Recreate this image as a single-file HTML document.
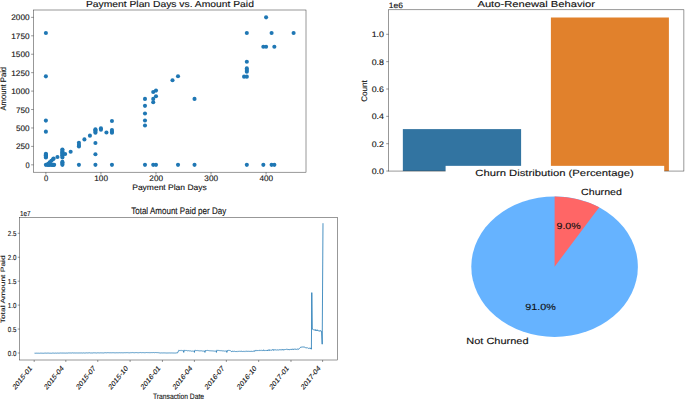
<!DOCTYPE html>
<html><head><meta charset="utf-8"><style>
html,body{margin:0;padding:0;background:#fff;width:685px;height:399px;overflow:hidden}
svg{display:block}
text{font-family:"Liberation Sans",sans-serif;text-rendering:geometricPrecision}
</style></head><body>
<svg width="685" height="399" viewBox="0 0 685 399" font-family="Liberation Sans, sans-serif">
<rect width="685" height="399" fill="#fff"/>
<rect x="33.5" y="10.0" width="272.5" height="162.2" fill="none" stroke="#333" stroke-width="0.5"/>
<circle cx="45.89" cy="164.83" r="2.05" fill="#1f77b4"/>
<circle cx="45.89" cy="157.45" r="2.05" fill="#1f77b4"/>
<circle cx="45.89" cy="156.72" r="2.05" fill="#1f77b4"/>
<circle cx="45.89" cy="155.98" r="2.05" fill="#1f77b4"/>
<circle cx="45.89" cy="155.24" r="2.05" fill="#1f77b4"/>
<circle cx="45.89" cy="154.51" r="2.05" fill="#1f77b4"/>
<circle cx="45.89" cy="153.77" r="2.05" fill="#1f77b4"/>
<circle cx="45.89" cy="131.65" r="2.05" fill="#1f77b4"/>
<circle cx="45.89" cy="120.59" r="2.05" fill="#1f77b4"/>
<circle cx="45.89" cy="76.35" r="2.05" fill="#1f77b4"/>
<circle cx="45.89" cy="33.00" r="2.05" fill="#1f77b4"/>
<circle cx="47.54" cy="164.83" r="2.05" fill="#1f77b4"/>
<circle cx="48.64" cy="164.83" r="2.05" fill="#1f77b4"/>
<circle cx="49.74" cy="164.83" r="2.05" fill="#1f77b4"/>
<circle cx="51.39" cy="164.83" r="2.05" fill="#1f77b4"/>
<circle cx="52.49" cy="164.83" r="2.05" fill="#1f77b4"/>
<circle cx="53.59" cy="164.83" r="2.05" fill="#1f77b4"/>
<circle cx="54.14" cy="164.83" r="2.05" fill="#1f77b4"/>
<circle cx="48.09" cy="163.72" r="2.05" fill="#1f77b4"/>
<circle cx="49.74" cy="162.25" r="2.05" fill="#1f77b4"/>
<circle cx="51.39" cy="160.77" r="2.05" fill="#1f77b4"/>
<circle cx="53.04" cy="159.30" r="2.05" fill="#1f77b4"/>
<circle cx="53.59" cy="158.56" r="2.05" fill="#1f77b4"/>
<circle cx="57.45" cy="156.94" r="2.05" fill="#1f77b4"/>
<circle cx="62.40" cy="164.83" r="2.05" fill="#1f77b4"/>
<circle cx="62.40" cy="163.72" r="2.05" fill="#1f77b4"/>
<circle cx="62.40" cy="162.62" r="2.05" fill="#1f77b4"/>
<circle cx="62.40" cy="161.88" r="2.05" fill="#1f77b4"/>
<circle cx="62.40" cy="157.53" r="2.05" fill="#1f77b4"/>
<circle cx="62.40" cy="156.05" r="2.05" fill="#1f77b4"/>
<circle cx="62.40" cy="155.32" r="2.05" fill="#1f77b4"/>
<circle cx="62.40" cy="153.84" r="2.05" fill="#1f77b4"/>
<circle cx="62.40" cy="153.77" r="2.05" fill="#1f77b4"/>
<circle cx="62.40" cy="152.29" r="2.05" fill="#1f77b4"/>
<circle cx="62.40" cy="151.56" r="2.05" fill="#1f77b4"/>
<circle cx="62.40" cy="150.08" r="2.05" fill="#1f77b4"/>
<circle cx="62.40" cy="149.57" r="2.05" fill="#1f77b4"/>
<circle cx="65.15" cy="153.99" r="2.05" fill="#1f77b4"/>
<circle cx="70.66" cy="151.78" r="2.05" fill="#1f77b4"/>
<circle cx="78.92" cy="164.83" r="2.05" fill="#1f77b4"/>
<circle cx="78.92" cy="146.40" r="2.05" fill="#1f77b4"/>
<circle cx="78.92" cy="144.92" r="2.05" fill="#1f77b4"/>
<circle cx="78.92" cy="142.71" r="2.05" fill="#1f77b4"/>
<circle cx="84.42" cy="139.39" r="2.05" fill="#1f77b4"/>
<circle cx="89.93" cy="135.63" r="2.05" fill="#1f77b4"/>
<circle cx="95.43" cy="164.83" r="2.05" fill="#1f77b4"/>
<circle cx="95.43" cy="154.28" r="2.05" fill="#1f77b4"/>
<circle cx="95.43" cy="142.93" r="2.05" fill="#1f77b4"/>
<circle cx="95.43" cy="132.76" r="2.05" fill="#1f77b4"/>
<circle cx="95.43" cy="131.65" r="2.05" fill="#1f77b4"/>
<circle cx="95.43" cy="130.18" r="2.05" fill="#1f77b4"/>
<circle cx="95.43" cy="129.29" r="2.05" fill="#1f77b4"/>
<circle cx="100.94" cy="129.81" r="2.05" fill="#1f77b4"/>
<circle cx="100.94" cy="128.26" r="2.05" fill="#1f77b4"/>
<circle cx="106.44" cy="132.53" r="2.05" fill="#1f77b4"/>
<circle cx="111.95" cy="164.83" r="2.05" fill="#1f77b4"/>
<circle cx="111.95" cy="132.76" r="2.05" fill="#1f77b4"/>
<circle cx="111.95" cy="131.65" r="2.05" fill="#1f77b4"/>
<circle cx="111.95" cy="130.10" r="2.05" fill="#1f77b4"/>
<circle cx="111.95" cy="120.96" r="2.05" fill="#1f77b4"/>
<circle cx="144.98" cy="164.83" r="2.05" fill="#1f77b4"/>
<circle cx="144.98" cy="125.53" r="2.05" fill="#1f77b4"/>
<circle cx="144.98" cy="120.52" r="2.05" fill="#1f77b4"/>
<circle cx="144.98" cy="113.44" r="2.05" fill="#1f77b4"/>
<circle cx="144.98" cy="105.85" r="2.05" fill="#1f77b4"/>
<circle cx="144.98" cy="98.92" r="2.05" fill="#1f77b4"/>
<circle cx="153.23" cy="164.83" r="2.05" fill="#1f77b4"/>
<circle cx="153.23" cy="102.23" r="2.05" fill="#1f77b4"/>
<circle cx="153.23" cy="98.92" r="2.05" fill="#1f77b4"/>
<circle cx="153.23" cy="91.98" r="2.05" fill="#1f77b4"/>
<circle cx="155.99" cy="164.83" r="2.05" fill="#1f77b4"/>
<circle cx="155.99" cy="96.26" r="2.05" fill="#1f77b4"/>
<circle cx="155.99" cy="90.58" r="2.05" fill="#1f77b4"/>
<circle cx="172.50" cy="80.19" r="2.05" fill="#1f77b4"/>
<circle cx="178.01" cy="76.28" r="2.05" fill="#1f77b4"/>
<circle cx="178.01" cy="164.83" r="2.05" fill="#1f77b4"/>
<circle cx="194.52" cy="98.92" r="2.05" fill="#1f77b4"/>
<circle cx="194.52" cy="164.83" r="2.05" fill="#1f77b4"/>
<circle cx="244.07" cy="76.65" r="2.05" fill="#1f77b4"/>
<circle cx="246.82" cy="164.83" r="2.05" fill="#1f77b4"/>
<circle cx="246.82" cy="76.65" r="2.05" fill="#1f77b4"/>
<circle cx="246.82" cy="71.64" r="2.05" fill="#1f77b4"/>
<circle cx="246.82" cy="70.09" r="2.05" fill="#1f77b4"/>
<circle cx="246.82" cy="68.39" r="2.05" fill="#1f77b4"/>
<circle cx="246.82" cy="61.68" r="2.05" fill="#1f77b4"/>
<circle cx="246.82" cy="33.00" r="2.05" fill="#1f77b4"/>
<circle cx="263.34" cy="164.83" r="2.05" fill="#1f77b4"/>
<circle cx="263.34" cy="46.72" r="2.05" fill="#1f77b4"/>
<circle cx="266.09" cy="46.72" r="2.05" fill="#1f77b4"/>
<circle cx="266.09" cy="17.37" r="2.05" fill="#1f77b4"/>
<circle cx="271.59" cy="164.83" r="2.05" fill="#1f77b4"/>
<circle cx="271.59" cy="33.00" r="2.05" fill="#1f77b4"/>
<circle cx="274.35" cy="164.83" r="2.05" fill="#1f77b4"/>
<circle cx="274.35" cy="46.72" r="2.05" fill="#1f77b4"/>
<circle cx="293.61" cy="33.00" r="2.05" fill="#1f77b4"/>
<line x1="31.1" y1="164.83" x2="33.5" y2="164.83" stroke="#333" stroke-width="0.5"/>
<text x="29.60" y="167.83" font-size="8.0" text-anchor="end" fill="#111" stroke="#111" stroke-width="0.12" textLength="4.14" lengthAdjust="spacingAndGlyphs" >0</text>
<line x1="31.1" y1="146.40" x2="33.5" y2="146.40" stroke="#333" stroke-width="0.5"/>
<text x="29.60" y="149.40" font-size="8.0" text-anchor="end" fill="#111" stroke="#111" stroke-width="0.12" textLength="13.61" lengthAdjust="spacingAndGlyphs" >250</text>
<line x1="31.1" y1="127.96" x2="33.5" y2="127.96" stroke="#333" stroke-width="0.5"/>
<text x="29.60" y="130.96" font-size="8.0" text-anchor="end" fill="#111" stroke="#111" stroke-width="0.12" textLength="13.61" lengthAdjust="spacingAndGlyphs" >500</text>
<line x1="31.1" y1="109.53" x2="33.5" y2="109.53" stroke="#333" stroke-width="0.5"/>
<text x="29.60" y="112.53" font-size="8.0" text-anchor="end" fill="#111" stroke="#111" stroke-width="0.12" textLength="13.61" lengthAdjust="spacingAndGlyphs" >750</text>
<line x1="31.1" y1="91.10" x2="33.5" y2="91.10" stroke="#333" stroke-width="0.5"/>
<text x="29.60" y="94.10" font-size="8.0" text-anchor="end" fill="#111" stroke="#111" stroke-width="0.12" textLength="18.35" lengthAdjust="spacingAndGlyphs" >1000</text>
<line x1="31.1" y1="72.67" x2="33.5" y2="72.67" stroke="#333" stroke-width="0.5"/>
<text x="29.60" y="75.67" font-size="8.0" text-anchor="end" fill="#111" stroke="#111" stroke-width="0.12" textLength="18.35" lengthAdjust="spacingAndGlyphs" >1250</text>
<line x1="31.1" y1="54.24" x2="33.5" y2="54.24" stroke="#333" stroke-width="0.5"/>
<text x="29.60" y="57.24" font-size="8.0" text-anchor="end" fill="#111" stroke="#111" stroke-width="0.12" textLength="18.35" lengthAdjust="spacingAndGlyphs" >1500</text>
<line x1="31.1" y1="35.80" x2="33.5" y2="35.80" stroke="#333" stroke-width="0.5"/>
<text x="29.60" y="38.80" font-size="8.0" text-anchor="end" fill="#111" stroke="#111" stroke-width="0.12" textLength="18.35" lengthAdjust="spacingAndGlyphs" >1750</text>
<line x1="31.1" y1="17.37" x2="33.5" y2="17.37" stroke="#333" stroke-width="0.5"/>
<text x="29.60" y="20.37" font-size="8.0" text-anchor="end" fill="#111" stroke="#111" stroke-width="0.12" textLength="18.35" lengthAdjust="spacingAndGlyphs" >2000</text>
<line x1="45.89" y1="172.2" x2="45.89" y2="174.6" stroke="#333" stroke-width="0.5"/>
<text x="46.09" y="181.40" font-size="8.0" text-anchor="middle" fill="#111" stroke="#111" stroke-width="0.12" textLength="4.24" lengthAdjust="spacingAndGlyphs" >0</text>
<line x1="100.94" y1="172.2" x2="100.94" y2="174.6" stroke="#333" stroke-width="0.5"/>
<text x="101.14" y="181.40" font-size="8.0" text-anchor="middle" fill="#111" stroke="#111" stroke-width="0.12" textLength="13.71" lengthAdjust="spacingAndGlyphs" >100</text>
<line x1="155.99" y1="172.2" x2="155.99" y2="174.6" stroke="#333" stroke-width="0.5"/>
<text x="156.19" y="181.40" font-size="8.0" text-anchor="middle" fill="#111" stroke="#111" stroke-width="0.12" textLength="13.71" lengthAdjust="spacingAndGlyphs" >200</text>
<line x1="211.04" y1="172.2" x2="211.04" y2="174.6" stroke="#333" stroke-width="0.5"/>
<text x="211.24" y="181.40" font-size="8.0" text-anchor="middle" fill="#111" stroke="#111" stroke-width="0.12" textLength="13.71" lengthAdjust="spacingAndGlyphs" >300</text>
<line x1="266.09" y1="172.2" x2="266.09" y2="174.6" stroke="#333" stroke-width="0.5"/>
<text x="266.29" y="181.40" font-size="8.0" text-anchor="middle" fill="#111" stroke="#111" stroke-width="0.12" textLength="13.71" lengthAdjust="spacingAndGlyphs" >400</text>
<text x="169.50" y="190.20" font-size="8.0" text-anchor="middle" fill="#111" stroke="#111" stroke-width="0.12" textLength="74.50" lengthAdjust="spacingAndGlyphs" >Payment Plan Days</text>
<text transform="translate(6.10 88.70) rotate(-90)" font-size="8.0" text-anchor="middle" fill="#111" stroke="#111" stroke-width="0.12" textLength="43.50" lengthAdjust="spacingAndGlyphs" >Amount Paid</text>
<text x="169.90" y="6.70" font-size="8.8" text-anchor="middle" fill="#111" stroke="#111" stroke-width="0.12" textLength="168.00" lengthAdjust="spacingAndGlyphs" >Payment Plan Days vs. Amount Paid</text>
<rect x="402.85" y="129.1" width="118.25" height="41.95" fill="#3274a1"/>
<rect x="550.9" y="17.5" width="118" height="153.55" fill="#e1812c"/>
<rect x="388.6" y="9.8" width="295.30" height="161.25" fill="none" stroke="#333" stroke-width="0.5"/>
<line x1="386.20000000000005" y1="171.05" x2="388.6" y2="171.05" stroke="#333" stroke-width="0.5"/>
<text x="384.00" y="173.90" font-size="8.0" text-anchor="end" fill="#111" stroke="#111" stroke-width="0.12" textLength="12.30" lengthAdjust="spacingAndGlyphs" >0.0</text>
<line x1="386.20000000000005" y1="143.70" x2="388.6" y2="143.70" stroke="#333" stroke-width="0.5"/>
<text x="384.00" y="146.55" font-size="8.0" text-anchor="end" fill="#111" stroke="#111" stroke-width="0.12" textLength="12.30" lengthAdjust="spacingAndGlyphs" >0.2</text>
<line x1="386.20000000000005" y1="116.35" x2="388.6" y2="116.35" stroke="#333" stroke-width="0.5"/>
<text x="384.00" y="119.20" font-size="8.0" text-anchor="end" fill="#111" stroke="#111" stroke-width="0.12" textLength="12.30" lengthAdjust="spacingAndGlyphs" >0.4</text>
<line x1="386.20000000000005" y1="89.00" x2="388.6" y2="89.00" stroke="#333" stroke-width="0.5"/>
<text x="384.00" y="91.85" font-size="8.0" text-anchor="end" fill="#111" stroke="#111" stroke-width="0.12" textLength="12.30" lengthAdjust="spacingAndGlyphs" >0.6</text>
<line x1="386.20000000000005" y1="61.65" x2="388.6" y2="61.65" stroke="#333" stroke-width="0.5"/>
<text x="384.00" y="64.50" font-size="8.0" text-anchor="end" fill="#111" stroke="#111" stroke-width="0.12" textLength="12.30" lengthAdjust="spacingAndGlyphs" >0.8</text>
<line x1="386.20000000000005" y1="34.30" x2="388.6" y2="34.30" stroke="#333" stroke-width="0.5"/>
<text x="384.00" y="37.15" font-size="8.0" text-anchor="end" fill="#111" stroke="#111" stroke-width="0.12" textLength="12.30" lengthAdjust="spacingAndGlyphs" >1.0</text>
<text x="388.80" y="8.30" font-size="7.8" text-anchor="start" fill="#111" stroke="#111" stroke-width="0.12" textLength="14.20" lengthAdjust="spacingAndGlyphs" >1e6</text>
<text transform="translate(367.00 91.00) rotate(-90)" font-size="8.0" text-anchor="middle" fill="#111" stroke="#111" stroke-width="0.12" textLength="21.60" lengthAdjust="spacingAndGlyphs" >Count</text>
<text x="536.20" y="6.60" font-size="8.7" text-anchor="middle" fill="#111" stroke="#111" stroke-width="0.12" textLength="117.50" lengthAdjust="spacingAndGlyphs" >Auto-Renewal Behavior</text>
<rect x="445.6" y="165.85" width="218.60" height="15" fill="#fff"/>
<text x="554.50" y="175.80" font-size="9.0" text-anchor="middle" fill="#111" stroke="#111" stroke-width="0.12" textLength="158.50" lengthAdjust="spacingAndGlyphs" >Churn Distribution (Percentage)</text>
<ellipse cx="554.6" cy="266.65" rx="83.3" ry="70.25" fill="#66b3ff"/>
<path d="M554.6,266.65 L554.6,196.39999999999998 A83.3,70.25 0 0 1 599.23,207.34 Z" fill="#ff6666"/>
<text x="601.50" y="194.70" font-size="9.0" text-anchor="middle" fill="#111" stroke="#111" stroke-width="0.12" textLength="40.80" lengthAdjust="spacingAndGlyphs" >Churned</text>
<text x="568.60" y="228.90" font-size="9.0" text-anchor="middle" fill="#111" stroke="#111" stroke-width="0.12" textLength="24.20" lengthAdjust="spacingAndGlyphs" >9.0%</text>
<text x="540.50" y="310.10" font-size="9.0" text-anchor="middle" fill="#111" stroke="#111" stroke-width="0.12" textLength="30.60" lengthAdjust="spacingAndGlyphs" >91.0%</text>
<text x="497.40" y="344.10" font-size="9.0" text-anchor="middle" fill="#111" stroke="#111" stroke-width="0.12" textLength="62.20" lengthAdjust="spacingAndGlyphs" >Not Churned</text>
<rect x="19.7" y="217.5" width="318.00" height="142.50" fill="none" stroke="#333" stroke-width="0.5"/>
<line x1="17.7" y1="353.00" x2="19.7" y2="353.00" stroke="#333" stroke-width="0.5"/>
<text transform="translate(16.40 355.60) scale(0.8 1)" font-size="7.3" text-anchor="end" fill="#111" stroke="#111" stroke-width="0.12" textLength="10.75" lengthAdjust="spacingAndGlyphs" >0.0</text>
<line x1="17.7" y1="329.06" x2="19.7" y2="329.06" stroke="#333" stroke-width="0.5"/>
<text transform="translate(16.40 331.66) scale(0.8 1)" font-size="7.3" text-anchor="end" fill="#111" stroke="#111" stroke-width="0.12" textLength="10.75" lengthAdjust="spacingAndGlyphs" >0.5</text>
<line x1="17.7" y1="305.12" x2="19.7" y2="305.12" stroke="#333" stroke-width="0.5"/>
<text transform="translate(16.40 307.72) scale(0.8 1)" font-size="7.3" text-anchor="end" fill="#111" stroke="#111" stroke-width="0.12" textLength="10.75" lengthAdjust="spacingAndGlyphs" >1.0</text>
<line x1="17.7" y1="281.18" x2="19.7" y2="281.18" stroke="#333" stroke-width="0.5"/>
<text transform="translate(16.40 283.78) scale(0.8 1)" font-size="7.3" text-anchor="end" fill="#111" stroke="#111" stroke-width="0.12" textLength="10.75" lengthAdjust="spacingAndGlyphs" >1.5</text>
<line x1="17.7" y1="257.24" x2="19.7" y2="257.24" stroke="#333" stroke-width="0.5"/>
<text transform="translate(16.40 259.84) scale(0.8 1)" font-size="7.3" text-anchor="end" fill="#111" stroke="#111" stroke-width="0.12" textLength="10.75" lengthAdjust="spacingAndGlyphs" >2.0</text>
<line x1="17.7" y1="233.30" x2="19.7" y2="233.30" stroke="#333" stroke-width="0.5"/>
<text transform="translate(16.40 235.90) scale(0.8 1)" font-size="7.3" text-anchor="end" fill="#111" stroke="#111" stroke-width="0.12" textLength="10.75" lengthAdjust="spacingAndGlyphs" >2.5</text>
<text transform="translate(19.90 216.10) scale(0.8 1)" font-size="7.3" text-anchor="start" fill="#111" stroke="#111" stroke-width="0.12" textLength="13.25" lengthAdjust="spacingAndGlyphs" >1e7</text>
<line x1="34.20" y1="360.0" x2="34.20" y2="362.0" stroke="#333" stroke-width="0.5"/>
<text transform="translate(32.40 368.60) scale(0.8 1) rotate(-45)" font-size="7.8" text-anchor="end" fill="#111" stroke="#111" stroke-width="0.12" textLength="30.50" lengthAdjust="spacingAndGlyphs" >2015-01</text>
<line x1="65.82" y1="360.0" x2="65.82" y2="362.0" stroke="#333" stroke-width="0.5"/>
<text transform="translate(64.02 368.60) scale(0.8 1) rotate(-45)" font-size="7.8" text-anchor="end" fill="#111" stroke="#111" stroke-width="0.12" textLength="30.50" lengthAdjust="spacingAndGlyphs" >2015-04</text>
<line x1="97.78" y1="360.0" x2="97.78" y2="362.0" stroke="#333" stroke-width="0.5"/>
<text transform="translate(95.98 368.60) scale(0.8 1) rotate(-45)" font-size="7.8" text-anchor="end" fill="#111" stroke="#111" stroke-width="0.12" textLength="30.50" lengthAdjust="spacingAndGlyphs" >2015-07</text>
<line x1="130.10" y1="360.0" x2="130.10" y2="362.0" stroke="#333" stroke-width="0.5"/>
<text transform="translate(128.30 368.60) scale(0.8 1) rotate(-45)" font-size="7.8" text-anchor="end" fill="#111" stroke="#111" stroke-width="0.12" textLength="30.50" lengthAdjust="spacingAndGlyphs" >2015-10</text>
<line x1="162.42" y1="360.0" x2="162.42" y2="362.0" stroke="#333" stroke-width="0.5"/>
<text transform="translate(160.62 368.60) scale(0.8 1) rotate(-45)" font-size="7.8" text-anchor="end" fill="#111" stroke="#111" stroke-width="0.12" textLength="30.50" lengthAdjust="spacingAndGlyphs" >2016-01</text>
<line x1="194.38" y1="360.0" x2="194.38" y2="362.0" stroke="#333" stroke-width="0.5"/>
<text transform="translate(192.58 368.60) scale(0.8 1) rotate(-45)" font-size="7.8" text-anchor="end" fill="#111" stroke="#111" stroke-width="0.12" textLength="30.50" lengthAdjust="spacingAndGlyphs" >2016-04</text>
<line x1="226.35" y1="360.0" x2="226.35" y2="362.0" stroke="#333" stroke-width="0.5"/>
<text transform="translate(224.55 368.60) scale(0.8 1) rotate(-45)" font-size="7.8" text-anchor="end" fill="#111" stroke="#111" stroke-width="0.12" textLength="30.50" lengthAdjust="spacingAndGlyphs" >2016-07</text>
<line x1="258.67" y1="360.0" x2="258.67" y2="362.0" stroke="#333" stroke-width="0.5"/>
<text transform="translate(256.87 368.60) scale(0.8 1) rotate(-45)" font-size="7.8" text-anchor="end" fill="#111" stroke="#111" stroke-width="0.12" textLength="30.50" lengthAdjust="spacingAndGlyphs" >2016-10</text>
<line x1="290.98" y1="360.0" x2="290.98" y2="362.0" stroke="#333" stroke-width="0.5"/>
<text transform="translate(289.18 368.60) scale(0.8 1) rotate(-45)" font-size="7.8" text-anchor="end" fill="#111" stroke="#111" stroke-width="0.12" textLength="30.50" lengthAdjust="spacingAndGlyphs" >2017-01</text>
<line x1="322.60" y1="360.0" x2="322.60" y2="362.0" stroke="#333" stroke-width="0.5"/>
<text transform="translate(320.80 368.60) scale(0.8 1) rotate(-45)" font-size="7.8" text-anchor="end" fill="#111" stroke="#111" stroke-width="0.12" textLength="30.50" lengthAdjust="spacingAndGlyphs" >2017-04</text>
<text transform="translate(178.50 398.80) scale(0.8 1)" font-size="7.8" text-anchor="middle" fill="#111" stroke="#111" stroke-width="0.12" textLength="63.75" lengthAdjust="spacingAndGlyphs" >Transaction Date</text>
<text transform="translate(4.50 289.30) scale(0.8 1) rotate(-90)" font-size="7.8" text-anchor="middle" fill="#111" stroke="#111" stroke-width="0.12" textLength="68.00" lengthAdjust="spacingAndGlyphs" >Total Amount Paid</text>
<text transform="translate(178.70 214.30) scale(0.8 1)" font-size="9.6" text-anchor="middle" fill="#111" stroke="#111" stroke-width="0.12" textLength="118.75" lengthAdjust="spacingAndGlyphs" >Total Amount Paid per Day</text>
<g transform="translate(19.7 0) scale(0.8 1) translate(-19.7 0)"><path d="M38.20,353.14 L38.57,353.21 L38.95,353.17 L39.32,353.22 L39.70,353.22 L40.07,353.09 L40.45,353.07 L40.82,353.27 L41.20,353.13 L41.57,353.12 L41.95,353.30 L42.32,353.18 L42.70,353.26 L43.07,353.17 L43.45,353.21 L43.82,353.09 L44.20,353.21 L44.57,353.26 L44.95,353.18 L45.32,353.23 L45.70,353.21 L46.07,353.06 L46.45,353.23 L46.82,353.19 L47.20,353.11 L47.57,353.05 L47.95,353.25 L48.32,353.15 L48.70,353.21 L49.07,353.25 L49.45,353.20 L49.82,353.25 L50.20,353.12 L50.57,353.22 L50.95,353.13 L51.32,353.25 L51.70,353.23 L52.07,353.05 L52.45,353.05 L52.82,353.07 L53.20,353.25 L53.57,353.12 L53.95,353.16 L54.32,353.09 L54.70,353.13 L55.07,353.10 L55.45,353.09 L55.82,353.15 L56.20,353.15 L56.57,353.22 L56.95,353.17 L57.32,353.22 L57.70,353.20 L58.07,353.24 L58.45,353.16 L58.82,353.03 L59.20,353.20 L59.57,353.22 L59.95,353.21 L60.32,353.12 L60.70,353.16 L61.07,353.04 L61.45,353.18 L61.82,353.12 L62.20,353.05 L62.57,352.99 L62.95,353.18 L63.32,353.21 L63.70,353.00 L64.07,353.16 L64.45,353.07 L64.82,353.01 L65.20,353.04 L65.57,353.15 L65.95,353.17 L66.32,352.97 L66.70,353.11 L67.07,352.97 L67.45,353.13 L67.82,353.04 L68.20,353.17 L68.57,353.19 L68.95,353.07 L69.32,353.19 L69.70,353.02 L70.07,352.97 L70.45,353.09 L70.82,352.95 L71.20,352.99 L71.57,353.04 L71.95,353.09 L72.32,352.98 L72.70,352.95 L73.07,353.14 L73.45,353.01 L73.82,353.16 L74.20,353.15 L74.57,353.02 L74.95,353.04 L75.32,353.05 L75.70,353.08 L76.07,353.07 L76.45,353.06 L76.82,353.07 L77.20,353.14 L77.57,353.04 L77.95,353.02 L78.32,353.09 L78.70,352.97 L79.07,352.98 L79.45,353.14 L79.82,353.03 L80.20,353.04 L80.57,352.91 L80.95,353.00 L81.32,353.04 L81.70,352.90 L82.07,353.05 L82.45,353.05 L82.82,352.91 L83.20,353.04 L83.57,353.00 L83.95,353.05 L84.32,352.97 L84.70,353.06 L85.07,353.06 L85.45,352.89 L85.82,352.90 L86.20,353.04 L86.57,353.11 L86.95,352.94 L87.32,352.99 L87.70,353.02 L88.07,352.95 L88.45,352.96 L88.82,352.94 L89.20,352.96 L89.57,353.01 L89.95,352.94 L90.32,352.95 L90.70,353.05 L91.07,352.87 L91.45,353.00 L91.82,353.03 L92.20,352.93 L92.57,352.91 L92.95,353.05 L93.32,352.91 L93.70,352.89 L94.07,352.95 L94.45,353.01 L94.82,352.87 L95.20,352.92 L95.57,352.92 L95.95,353.04 L96.32,352.94 L96.70,353.04 L97.07,352.88 L97.45,352.91 L97.82,352.99 L98.20,353.04 L98.57,352.94 L98.95,352.88 L99.32,352.85 L99.70,352.95 L100.07,352.87 L100.45,353.01 L100.82,353.02 L101.20,352.86 L101.57,352.88 L101.95,353.01 L102.32,352.97 L102.70,353.01 L103.07,352.89 L103.45,352.84 L103.82,352.88 L104.20,353.00 L104.57,352.87 L104.95,352.89 L105.32,352.90 L105.70,352.90 L106.07,352.90 L106.45,353.02 L106.82,352.83 L107.20,352.79 L107.57,353.02 L107.95,353.00 L108.32,353.03 L108.70,352.89 L109.07,353.01 L109.45,353.01 L109.82,352.84 L110.20,352.96 L110.57,352.98 L110.95,352.94 L111.32,352.90 L111.70,352.84 L112.07,352.85 L112.45,352.83 L112.82,352.79 L113.20,352.91 L113.57,352.84 L113.95,352.96 L114.32,352.77 L114.70,352.98 L115.07,352.93 L115.45,352.98 L115.82,352.97 L116.20,352.97 L116.57,352.89 L116.95,352.76 L117.32,352.93 L117.70,352.79 L118.07,352.82 L118.45,352.91 L118.82,352.87 L119.20,352.84 L119.57,352.97 L119.95,352.89 L120.32,352.82 L120.70,352.80 L121.07,352.94 L121.45,352.85 L121.82,352.92 L122.20,352.82 L122.57,352.78 L122.95,352.86 L123.32,352.92 L123.70,352.77 L124.07,352.91 L124.45,352.94 L124.82,352.91 L125.20,352.92 L125.57,352.72 L125.95,352.87 L126.32,352.92 L126.70,352.72 L127.07,352.78 L127.45,352.77 L127.82,352.83 L128.20,352.81 L128.57,352.82 L128.95,352.89 L129.32,352.70 L129.70,352.71 L130.07,352.73 L130.45,352.73 L130.82,352.71 L131.20,352.93 L131.57,352.90 L131.95,352.71 L132.32,352.81 L132.70,352.76 L133.07,352.76 L133.45,352.77 L133.82,352.84 L134.20,352.82 L134.57,352.77 L134.95,352.72 L135.32,352.76 L135.70,352.70 L136.07,352.81 L136.45,352.84 L136.82,352.76 L137.20,352.69 L137.57,352.71 L137.95,352.76 L138.32,352.81 L138.70,352.85 L139.07,352.75 L139.45,352.85 L139.82,352.81 L140.20,352.76 L140.57,352.74 L140.95,352.77 L141.32,352.82 L141.70,352.75 L142.07,352.81 L142.45,352.76 L142.82,352.70 L143.20,352.77 L143.57,352.81 L143.95,352.66 L144.32,352.74 L144.70,352.74 L145.07,352.85 L145.45,352.86 L145.82,352.72 L146.20,352.85 L146.57,352.82 L146.95,352.69 L147.32,352.74 L147.70,352.65 L148.07,352.82 L148.45,352.78 L148.82,352.83 L149.20,352.81 L149.57,352.78 L149.95,352.79 L150.32,352.75 L150.70,352.64 L151.07,352.75 L151.45,352.61 L151.82,352.64 L152.20,352.79 L152.57,352.62 L152.95,352.63 L153.32,352.63 L153.70,352.81 L154.07,352.64 L154.45,352.60 L154.82,352.80 L155.20,352.62 L155.57,352.79 L155.95,352.75 L156.32,352.79 L156.70,352.82 L157.07,352.72 L157.45,352.78 L157.82,352.59 L158.20,352.77 L158.57,352.70 L158.95,352.75 L159.32,352.60 L159.70,352.75 L160.07,352.80 L160.45,352.59 L160.82,352.65 L161.20,352.70 L161.57,352.77 L161.95,352.62 L162.32,352.61 L162.70,352.62 L163.07,352.71 L163.45,352.74 L163.82,352.65 L164.20,352.64 L164.57,352.65 L164.95,352.64 L165.32,352.65 L165.70,352.57 L166.07,352.67 L166.45,352.78 L166.82,352.64 L167.20,352.72 L167.57,352.58 L167.95,352.71 L168.32,352.72 L168.70,352.70 L169.07,352.66 L169.45,352.65 L169.82,352.69 L170.20,352.75 L170.57,352.57 L170.95,352.55 L171.32,352.71 L171.70,352.75 L172.07,352.65 L172.45,352.63 L172.82,352.69 L173.20,352.56 L173.57,352.58 L173.95,352.56 L174.32,352.65 L174.70,352.59 L175.07,352.57 L175.45,352.68 L175.82,352.74 L176.20,352.58 L176.57,352.67 L176.95,352.60 L177.32,352.71 L177.70,352.64 L178.07,352.56 L178.45,352.55 L178.82,352.50 L179.20,352.61 L179.57,352.58 L179.95,352.53 L180.32,352.58 L180.70,352.57 L181.07,352.67 L181.45,352.52 L181.82,352.72 L182.20,352.60 L182.57,352.62 L182.95,352.59 L183.32,352.68 L183.70,352.68 L184.07,352.61 L184.45,352.60 L184.83,352.65 L185.20,352.69 L185.58,352.58 L185.95,352.66 L186.33,352.71 L186.70,352.59 L187.08,352.54 L187.45,352.54 L187.83,352.65 L188.20,352.64 L188.58,352.71 L188.95,352.68 L189.33,352.54 L189.70,352.53 L190.08,352.54 L190.45,352.52 L190.83,352.65 L191.20,352.69 L191.58,352.70 L191.95,352.54 L192.33,352.69 L192.70,352.57 L193.08,352.65 L193.45,352.78 L193.83,352.68 L194.20,352.73 L194.58,352.96 L194.95,352.88 L195.33,352.92 L195.70,352.97 L196.08,352.99 L196.45,352.83 L196.83,352.91 L197.20,352.94 L197.58,352.95 L197.95,352.89 L198.33,352.98 L198.70,353.07 L199.08,352.93 L199.45,352.97 L199.83,352.87 L200.20,352.91 L200.58,353.00 L200.95,352.87 L201.33,353.06 L201.70,353.06 L202.08,352.87 L202.45,353.07 L202.83,352.94 L203.20,353.04 L203.58,353.03 L203.95,352.92 L204.33,353.01 L204.70,353.01 L205.08,353.05 L205.45,352.92 L205.83,353.04 L206.20,353.09 L206.58,353.02 L206.95,352.99 L207.33,352.89 L207.70,352.98 L208.08,352.95 L208.45,353.03 L208.83,353.03 L209.20,353.00 L209.58,352.91 L209.95,353.02 L210.33,353.02 L210.70,352.91 L211.08,353.08 L211.45,353.03 L211.83,352.90 L212.20,353.10 L212.58,352.91 L212.95,352.95 L213.33,353.05 L213.70,353.02 L214.08,353.01 L214.45,353.03 L214.83,352.99 L215.20,352.95 L215.58,352.92 L215.95,352.90 L216.33,353.05 L217.07,352.80 L218.58,350.30 L218.95,350.50 L219.32,350.46 L219.70,350.54 L220.08,350.45 L220.45,350.44 L220.83,350.50 L221.20,350.67 L221.58,350.45 L221.95,350.61 L222.33,350.55 L222.70,350.73 L223.08,350.63 L223.45,350.65 L223.83,350.69 L224.20,350.76 L224.58,350.85 L224.76,352.40 L225.07,350.60 L224.95,350.36 L225.33,350.53 L225.70,350.34 L226.08,350.41 L226.45,350.38 L226.83,350.41 L227.20,350.63 L227.58,350.64 L227.95,350.50 L228.33,350.52 L228.70,350.61 L229.08,350.73 L229.45,350.78 L229.83,350.78 L230.20,350.76 L230.58,350.64 L230.95,350.74 L231.33,350.70 L231.70,350.83 L232.08,350.86 L232.45,350.78 L232.83,350.81 L233.20,350.99 L233.58,350.79 L233.95,351.05 L234.33,351.10 L234.70,351.14 L235.08,350.99 L235.45,351.06 L235.83,351.10 L236.20,351.13 L236.58,351.26 L236.95,351.20 L237.33,351.10 L237.70,351.29 L238.08,351.20 L238.14,352.40 L238.45,350.60 L238.45,350.45 L238.83,350.51 L239.20,350.31 L239.58,350.56 L239.95,350.56 L240.33,350.53 L240.70,350.56 L241.08,350.56 L241.45,350.51 L241.83,350.63 L242.20,350.50 L242.58,350.67 L242.95,350.73 L243.33,350.70 L243.70,350.76 L244.08,350.90 L244.45,350.90 L244.83,350.69 L245.20,350.91 L245.58,350.89 L245.95,350.74 L246.33,350.85 L246.70,350.84 L247.08,350.81 L247.45,350.98 L247.83,351.12 L248.20,350.96 L248.58,351.14 L248.95,351.11 L249.33,350.97 L249.70,351.21 L250.08,351.15 L250.45,351.27 L250.83,351.23 L251.20,351.26 L251.26,352.40 L251.57,350.60 L251.58,350.37 L251.95,350.53 L252.33,350.59 L252.70,350.59 L253.08,350.49 L253.45,350.61 L253.83,350.55 L254.20,350.46 L254.58,350.46 L254.95,350.49 L255.33,350.55 L255.70,350.56 L256.08,350.69 L256.45,350.77 L256.83,350.75 L257.20,350.73 L257.58,350.83 L257.95,350.75 L258.33,350.82 L258.70,350.93 L259.08,350.84 L259.45,350.80 L259.83,351.04 L260.20,351.01 L260.58,350.92 L260.95,350.95 L261.33,351.02 L261.70,351.06 L262.08,350.97 L262.45,350.93 L262.83,351.01 L263.20,351.21 L263.58,351.04 L263.95,351.16 L264.33,351.10 L264.70,351.13 L265.08,351.14 L265.45,351.23 L265.64,352.40 L265.95,350.60 L265.83,350.31 L266.20,350.29 L266.58,350.34 L266.95,350.38 L267.33,350.50 L267.70,350.39 L268.08,350.40 L268.45,350.55 L268.83,350.56 L269.20,350.67 L269.58,350.50 L269.95,350.63 L270.33,350.65 L270.70,350.56 L271.08,350.87 L271.45,350.67 L271.83,350.65 L272.20,350.79 L272.58,350.72 L272.95,350.88 L273.33,350.82 L273.70,350.77 L274.08,350.78 L274.45,351.00 L274.83,350.89 L275.20,351.07 L275.58,350.99 L275.95,351.15 L276.33,350.99 L276.70,351.00 L277.08,351.02 L277.45,351.21 L277.83,351.18 L278.20,351.12 L278.58,351.06 L278.64,352.40 L278.95,350.60 L278.95,350.47 L279.33,350.58 L279.70,350.49 L280.08,350.33 L280.45,350.37 L280.83,350.41 L281.20,350.45 L281.58,350.44 L281.95,350.46 L282.33,350.67 L282.70,350.76 L283.08,350.58 L283.45,350.83 L283.83,351.29 L284.20,351.48 L284.58,351.55 L284.95,351.56 L285.33,351.02 L285.70,351.18 L286.08,351.36 L286.45,351.57 L286.83,351.05 L287.20,351.18 L287.58,351.51 L287.95,351.07 L288.33,351.23 L288.70,351.20 L289.08,351.41 L289.45,351.56 L289.83,351.10 L290.20,351.44 L290.58,351.44 L290.95,351.50 L291.33,351.33 L291.70,351.55 L292.08,351.22 L292.45,351.25 L292.83,351.14 L293.20,351.47 L293.58,351.29 L293.95,351.16 L294.33,351.10 L294.70,351.43 L295.08,351.36 L295.45,351.43 L295.83,351.23 L296.20,351.29 L296.58,351.09 L296.95,351.43 L297.33,351.01 L297.70,351.28 L298.08,351.46 L298.45,351.41 L298.83,351.06 L299.20,351.14 L299.58,351.51 L299.95,351.39 L300.33,351.53 L300.70,351.52 L301.08,351.27 L301.45,351.54 L301.83,351.44 L302.20,351.20 L302.58,351.22 L302.95,351.04 L303.33,351.24 L303.70,351.57 L304.08,351.06 L304.45,351.34 L304.83,351.07 L305.20,351.05 L305.58,351.39 L305.95,351.14 L306.33,351.03 L306.70,351.09 L307.08,351.39 L307.45,351.35 L307.83,351.01 L308.20,351.14 L308.58,351.58 L308.95,351.13 L309.33,351.34 L309.70,351.25 L310.08,351.47 L310.45,351.36 L310.83,351.47 L311.20,351.32 L311.58,351.11 L311.95,351.11 L312.33,351.05 L312.70,351.46 L313.08,350.91 L313.45,350.73 L313.83,351.18 L314.20,350.60 L314.58,350.90 L314.95,350.29 L315.33,350.47 L315.70,350.32 L316.08,350.68 L316.45,350.55 L316.83,350.56 L317.20,350.62 L317.58,350.68 L317.95,350.36 L318.33,350.51 L318.70,350.41 L319.08,350.20 L319.45,350.63 L319.83,350.48 L320.20,350.60 L320.58,350.23 L320.95,350.42 L321.33,350.37 L321.70,350.52 L322.08,350.13 L322.45,350.28 L322.83,350.45 L323.20,350.50 L323.58,350.44 L323.95,350.18 L324.33,350.64 L324.70,349.79 L325.08,350.13 L325.45,350.46 L325.83,350.61 L326.20,350.57 L326.58,350.25 L326.95,350.54 L327.33,350.28 L327.70,350.23 L328.08,350.53 L328.45,350.53 L328.83,350.02 L329.20,350.13 L329.58,350.78 L329.95,350.11 L330.33,350.15 L330.70,350.38 L331.08,349.99 L331.45,349.54 L331.83,350.37 L332.20,350.49 L332.58,350.43 L332.95,349.98 L333.33,350.15 L333.70,350.19 L334.08,350.36 L334.45,350.12 L334.83,350.31 L335.20,349.96 L335.58,349.81 L335.95,350.11 L336.33,349.35 L336.70,350.23 L337.08,350.34 L337.45,349.76 L337.83,349.74 L338.20,350.01 L338.58,349.76 L338.95,349.84 L339.33,349.93 L339.70,349.70 L340.08,350.04 L340.45,350.20 L340.83,349.78 L341.20,350.08 L341.58,349.92 L341.95,349.93 L342.33,349.95 L342.70,350.11 L343.08,349.84 L343.45,350.11 L343.83,349.90 L344.20,349.84 L344.58,349.63 L344.95,350.10 L345.33,349.74 L345.70,349.75 L346.08,349.74 L346.45,349.55 L346.83,349.76 L347.20,349.94 L347.58,349.98 L347.95,349.43 L348.33,349.73 L348.70,349.55 L349.08,350.22 L349.45,349.58 L349.83,349.89 L350.20,349.72 L350.58,349.88 L350.95,349.54 L351.33,349.49 L351.70,349.86 L352.08,349.47 L352.45,349.43 L352.83,349.40 L353.20,349.29 L353.58,349.40 L353.95,349.66 L354.33,349.58 L354.70,349.20 L355.08,349.34 L355.45,349.46 L355.83,349.01 L356.20,349.72 L356.58,349.68 L356.95,349.72 L357.33,349.50 L357.70,349.13 L358.08,349.19 L358.45,349.56 L358.83,349.08 L359.20,349.36 L359.58,349.09 L359.95,349.61 L360.33,349.08 L360.70,349.07 L361.08,348.97 L361.45,349.53 L361.83,349.54 L362.20,349.15 L362.58,349.21 L362.95,348.82 L363.33,349.34 L363.70,349.22 L364.08,349.19 L364.45,349.18 L364.83,348.96 L365.20,349.39 L365.58,348.92 L365.95,349.31 L366.33,348.95 L366.70,348.81 L367.08,349.01 L367.45,349.48 L367.83,349.21 L368.20,349.13 L368.58,349.24 L368.95,348.84 L369.33,348.58 L369.70,348.16 L370.08,347.69 L370.45,347.50 L370.83,347.45 L371.20,347.34 L371.58,347.37 L371.95,346.81 L372.33,347.13 L372.70,347.03 L373.08,347.18 L373.45,346.83 L373.83,347.02 L374.20,346.91 L374.58,346.91 L374.95,347.28 L375.33,346.89 L375.70,347.17 L376.08,347.25 L376.45,347.45 L376.83,347.47 L377.20,347.73 L377.58,347.54 L377.95,347.66 L378.33,347.88 L378.70,347.90 L379.08,347.74 L379.45,348.04 L379.83,347.78 L380.20,348.04 L380.58,348.41 L380.95,348.37 L381.33,348.49 L381.70,348.31 L382.08,348.18 L382.45,348.40 L382.83,348.77 L383.20,348.41 L383.58,347.87 L383.95,349.21 L384.32,349.10 L384.82,292.60 L385.45,329.30 L385.82,329.22 L386.20,329.38 L386.58,329.57 L386.95,329.77 L387.33,329.73 L387.70,330.02 L388.08,330.11 L388.45,329.90 L388.83,329.54 L389.20,330.65 L389.58,330.36 L389.95,329.69 L390.33,330.17 L390.70,330.60 L391.08,330.94 L391.45,329.88 L391.83,329.86 L392.20,330.48 L392.58,330.47 L392.95,331.09 L393.33,331.06 L393.70,330.52 L394.08,330.68 L394.45,330.93 L394.83,331.34 L395.20,330.58 L395.58,330.86 L395.95,330.55 L396.33,331.26 L397.07,331.50 L397.82,344.20 L398.82,223.20" fill="none" stroke="#1f77b4" stroke-width="0.9" stroke-linejoin="round"/></g>
</svg></body></html>
